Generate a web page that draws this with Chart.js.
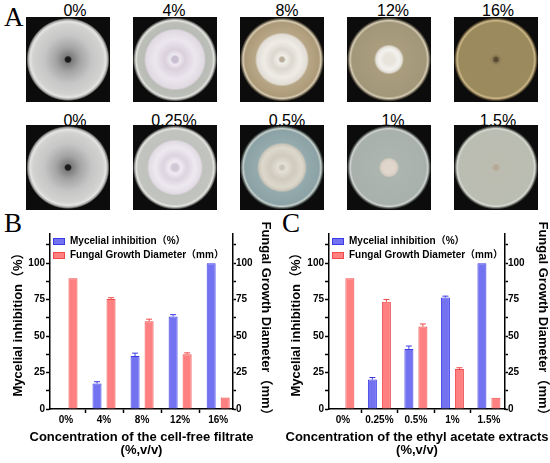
<!DOCTYPE html>
<html>
<head>
<meta charset="utf-8">
<script src="https://cdn.jsdelivr.net/npm/chart.js@4.4.1/dist/chart.umd.min.js"></script>
<style>
  body { margin: 0; background: #fff; }
  #fig { position: relative; width: 550px; height: 463px; background: #fff; overflow: hidden;
         font-family: "Liberation Sans", Arial, sans-serif; }
  .letter { position: absolute; font-family: "Liberation Serif", "Times New Roman", serif;
            font-size: 27px; line-height: 27px; color: #000; }
  .dish { position: absolute; width: 84px; height: 85px; background-color: #0c0c0c; }
  .dlabel { position: absolute; width: 80px; text-align: center; font-size: 16px; line-height: 16px; color: #000; }
  .panel { position: absolute; top: 218px; width: 275px; height: 245px; }
</style>
</head>
<body>
<div id="fig">
  <div class="letter" style="left:4px;top:4px">A</div>
  <div class="letter" style="left:4px;top:210px">B</div>
  <div class="letter" style="left:282px;top:210px">C</div>
  <div class="panel" style="left:0"><canvas id="chartB"></canvas></div>
  <div class="panel" style="left:275px"><canvas id="chartC"></canvas></div>
</div>

<script>
// panel A labels
const filtrateLabels = ["0%", "4%", "8%", "12%", "16%"];
const extractLabels = ["0%", "0.25%", "0.5%", "1%", "1.5%"];

// panel B: cell-free filtrate
const inhibitionB = [0, 17.5, 36.3, 63.5, 100];
const inhibitionErrB = [0, 1.2, 2.0, 1.2, 0];
const diameterB = [89.6, 75.5, 60.2, 37.6, 7.9];
const diameterErrB = [0, 0.8, 1.4, 0.9, 0];

// panel C: ethyl acetate extracts
const inhibitionC = [0, 20.2, 41.2, 76.4, 100];
const inhibitionErrC = [0, 1.4, 2.0, 1.0, 0];
const diameterC = [89.6, 73.5, 56.5, 27.5, 7.7];
const diameterErrC = [0, 1.6, 1.8, 0.8, 0];

const FONT = "'Liberation Sans', Arial, 'Noto Sans CJK SC', sans-serif";
Chart.defaults.font.family = FONT;
Chart.defaults.color = '#000';

// ---- petri dish photos (drawn as simple gradients) ----
const dishX = [26, 133, 240, 347, 454];
const dishY = [17, 125];
const labelX = [75, 174, 287, 393, 498];
const labelY = [3, 113];
const full = 'radial-gradient(circle 41px, #1a1a1a 0 2.5px, #7d7d7d 4px, #a4a4a4 12px, #c6c6c6 24px, #d2d2d0 35px, #e4e4e2 38px, #9a9a98 40px, #0c0c0c 41.5px)';
const dishLooks = [
  [
    full,
    'radial-gradient(circle 41px, #c9bfd0 0 3px, #eee9f0 5px, #d9d0dc 10px, #ece7ee 20px, #e0d9e2 29px, #b9bbb6 31px, #bcbeb8 37px, #e4e4e0 39px, #8a8a88 40.5px, #0c0c0c 42px)',
    'radial-gradient(circle 41px, #b8ad98 0 2px, #f0eee8 4px, #dcd8cf 10px, #efece6 18px, #e2ded6 25px, #b7a686 27px, #ad9a78 37px, #d8ccb4 39px, #6e6450 40.5px, #0c0c0c 42px)',
    'radial-gradient(circle 41px, #e8e4dc 0 5px, #f4f2ee 10px, #e4e0d8 13px, #a99d7e 15px, #a3977a 37px, #d4ccb4 39px, #6a6250 40.5px, #0c0c0c 42px)',
    'radial-gradient(circle 41px, #5a4a30 0 2px, #8a7a55 3.5px, #9b8a5e 6px, #9a8a5c 37px, #cdb98c 39px, #6a5a3a 40.5px, #0c0c0c 42px)'
  ],
  [
    full,
    'radial-gradient(circle 41px, #d0c8d4 0 3px, #f0ecf2 6px, #dcd4de 12px, #eee9f0 20px, #e2dbe4 26px, #c0c2bd 28px, #c2c4bf 37px, #e6e6e2 39px, #8a8a88 40.5px, #0c0c0c 42px)',
    'radial-gradient(circle 41px, #c8c4b8 0 2px, #e4e0d6 4px, #cfcabd 12px, #dcd8cc 20px, #cdc8ba 23px, #94aaad 25px, #8ba2a6 37px, #c8d0cc 39px, #5a6664 40.5px, #0c0c0c 42px)',
    'radial-gradient(circle 41px, #e0d6cc 0 6px, #d6ccc0 8.5px, #adb5b0 10px, #a8b1ac 37px, #d0d4d0 39px, #5e6462 40.5px, #0c0c0c 42px)',
    'radial-gradient(circle 41px, #b8a898 0 2.5px, #bcbcb0 4px, #babdb2 37px, #d8dad2 39px, #666a62 40.5px, #0c0c0c 42px)'
  ]
];
const fig = document.getElementById('fig');
[filtrateLabels, extractLabels].forEach((row, r) => {
  row.forEach((txt, c) => {
    const d = document.createElement('div');
    d.className = 'dish';
    d.style.left = dishX[c] + 'px';
    d.style.top = dishY[r] + 'px';
    d.style.backgroundImage = dishLooks[r][c];
    fig.appendChild(d);
    const l = document.createElement('div');
    l.className = 'dlabel';
    l.style.left = (labelX[c] - 40) + 'px';
    l.style.top = labelY[r] + 'px';
    l.textContent = txt;
    fig.appendChild(l);
  });
});

// ---- plugins ----
const errorBars = {
  id: 'errorBars',
  afterDatasetsDraw(chart) {
    const ctx = chart.ctx;
    chart.data.datasets.forEach((ds, i) => {
      const meta = chart.getDatasetMeta(i);
      const scale = chart.scales[ds.yAxisID];
      ctx.save();
      ctx.strokeStyle = ds.borderColor;
      ctx.lineWidth = 1;
      meta.data.forEach((bar, j) => {
        const err = ds.errors[j];
        if (!err) return;
        const top = scale.getPixelForValue(ds.data[j].y + err);
        ctx.beginPath();
        ctx.moveTo(bar.x, bar.y);
        ctx.lineTo(bar.x, top);
        ctx.moveTo(bar.x - 3, top);
        ctx.lineTo(bar.x + 3, top);
        ctx.stroke();
      });
      ctx.restore();
    });
  }
};

// legend inside the plot + x title that may run wider than the axis
const innerLegend = {
  id: 'innerLegend',
  afterDraw(chart, args, opts) {
    const { ctx, chartArea } = chart;
    ctx.save();
    ctx.font = 'bold 10px ' + FONT;
    ctx.textBaseline = 'middle';
    chart.data.datasets.forEach((ds, i) => {
      const y = chartArea.top + 7.5 + i * 14;
      ctx.fillStyle = ds.backgroundColor;
      ctx.fillRect(chartArea.left + 3, y - 3.5, 12, 7);
      ctx.strokeStyle = ds.borderColor;
      ctx.lineWidth = 1;
      ctx.strokeRect(chartArea.left + 3.5, y - 3, 11, 6);
      ctx.fillStyle = '#000';
      ctx.fillText(ds.label, chartArea.left + 20, y);
    });
    ctx.font = 'bold 13px ' + FONT;
    ctx.textAlign = 'center';
    const cx = (chartArea.left + chartArea.right) / 2;
    opts.lines.forEach((t, i) => ctx.fillText(t, cx, chartArea.bottom + 28 + i * 13));
    ctx.restore();
  }
};

function yAxis(position, title, width, pad, tickLen, tickPad) {
  return {
    type: 'linear',
    position: position,
    min: 0,
    max: 120,
    grid: { display: true, drawOnChartArea: false, tickLength: tickLen, tickColor: '#000', tickWidth: 1.5 },
    border: { display: true, color: '#000', width: 1.5 },
    ticks: {
      stepSize: 12.5, includeBounds: false, autoSkip: false, padding: tickPad,
      font: { size: 10, weight: 'bold' },
      callback: v => (v % 25 === 0 ? v : '')
    },
    title: { display: true, text: title, font: { size: 13, weight: 'bold' }, padding: { top: pad, bottom: 0 } },
    afterFit(s) { s.width = width; }
  };
}

function makeChart(id, labels, inh, inhErr, dia, diaErr, o) {
  new Chart(document.getElementById(id), {
    type: 'bar',
    data: {
      datasets: [
        {
          label: 'Mycelial inhibition（%）',
          data: inh.map((v, i) => ({ x: i, y: v })),
          errors: inhErr,
          yAxisID: 'y',
          backgroundColor: '#7373f2',
          borderColor: '#3c3ce6',
          borderWidth: 1,
          categoryPercentage: o.cat,
          barPercentage: 0.643
        },
        {
          label: 'Fungal Growth Diameter（mm）',
          data: dia.map((v, i) => ({ x: i, y: v })),
          errors: diaErr,
          yAxisID: 'y1',
          backgroundColor: '#ff8080',
          borderColor: '#f04a4a',
          borderWidth: 1,
          categoryPercentage: o.cat,
          barPercentage: 0.643
        }
      ]
    },
    options: {
      responsive: true,
      maintainAspectRatio: false,
      animation: false,
      layout: { padding: { top: 16, left: 0, right: 0, bottom: 0 } },
      plugins: {
        legend: { display: false },
        tooltip: { enabled: false },
        innerLegend: { lines: [o.xTitle, '(%,v/v)'] }
      },
      scales: {
        x: {
          type: 'linear',
          min: o.xmin,
          max: o.xmax,
          offset: false,
          grid: { display: true, drawOnChartArea: false, tickLength: 4, tickColor: '#000', tickWidth: 1.5 },
          border: { display: true, color: '#000', width: 1.5 },
          ticks: {
            stepSize: 1, includeBounds: false, autoSkip: false, maxRotation: 0, padding: 1,
            font: { size: 10, weight: 'bold' },
            callback: v => (labels[v] !== undefined ? labels[v] : '')
          },
          afterFit(s) { s.height = 54; }
        },
        y: yAxis('left', 'Mycelial inhibition（%）', o.leftW, o.leftPad, 4, 1),
        y1: yAxis('right', 'Fungal Growth Diameter（mm）', o.rightW, o.rightPad, 3, 0)
      }
    },
    plugins: [errorBars, innerLegend]
  });
}

makeChart('chartB', filtrateLabels, inhibitionB, inhibitionErrB, diameterB, diameterErrB, {
  xmin: -0.42, xmax: 4.39, cat: 0.737, leftW: 50, rightW: 42, leftPad: 11, rightPad: 2,
  xTitle: 'Concentration of the cell-free filtrate'
});
makeChart('chartC', extractLabels, inhibitionC, inhibitionErrC, diameterC, diameterErrC, {
  xmin: -0.38, xmax: 4.44, cat: 0.767, leftW: 54, rightW: 45, leftPad: 14, rightPad: 0,
  xTitle: 'Concentration of the ethyl acetate extracts'
});
</script>
</body>
</html>
